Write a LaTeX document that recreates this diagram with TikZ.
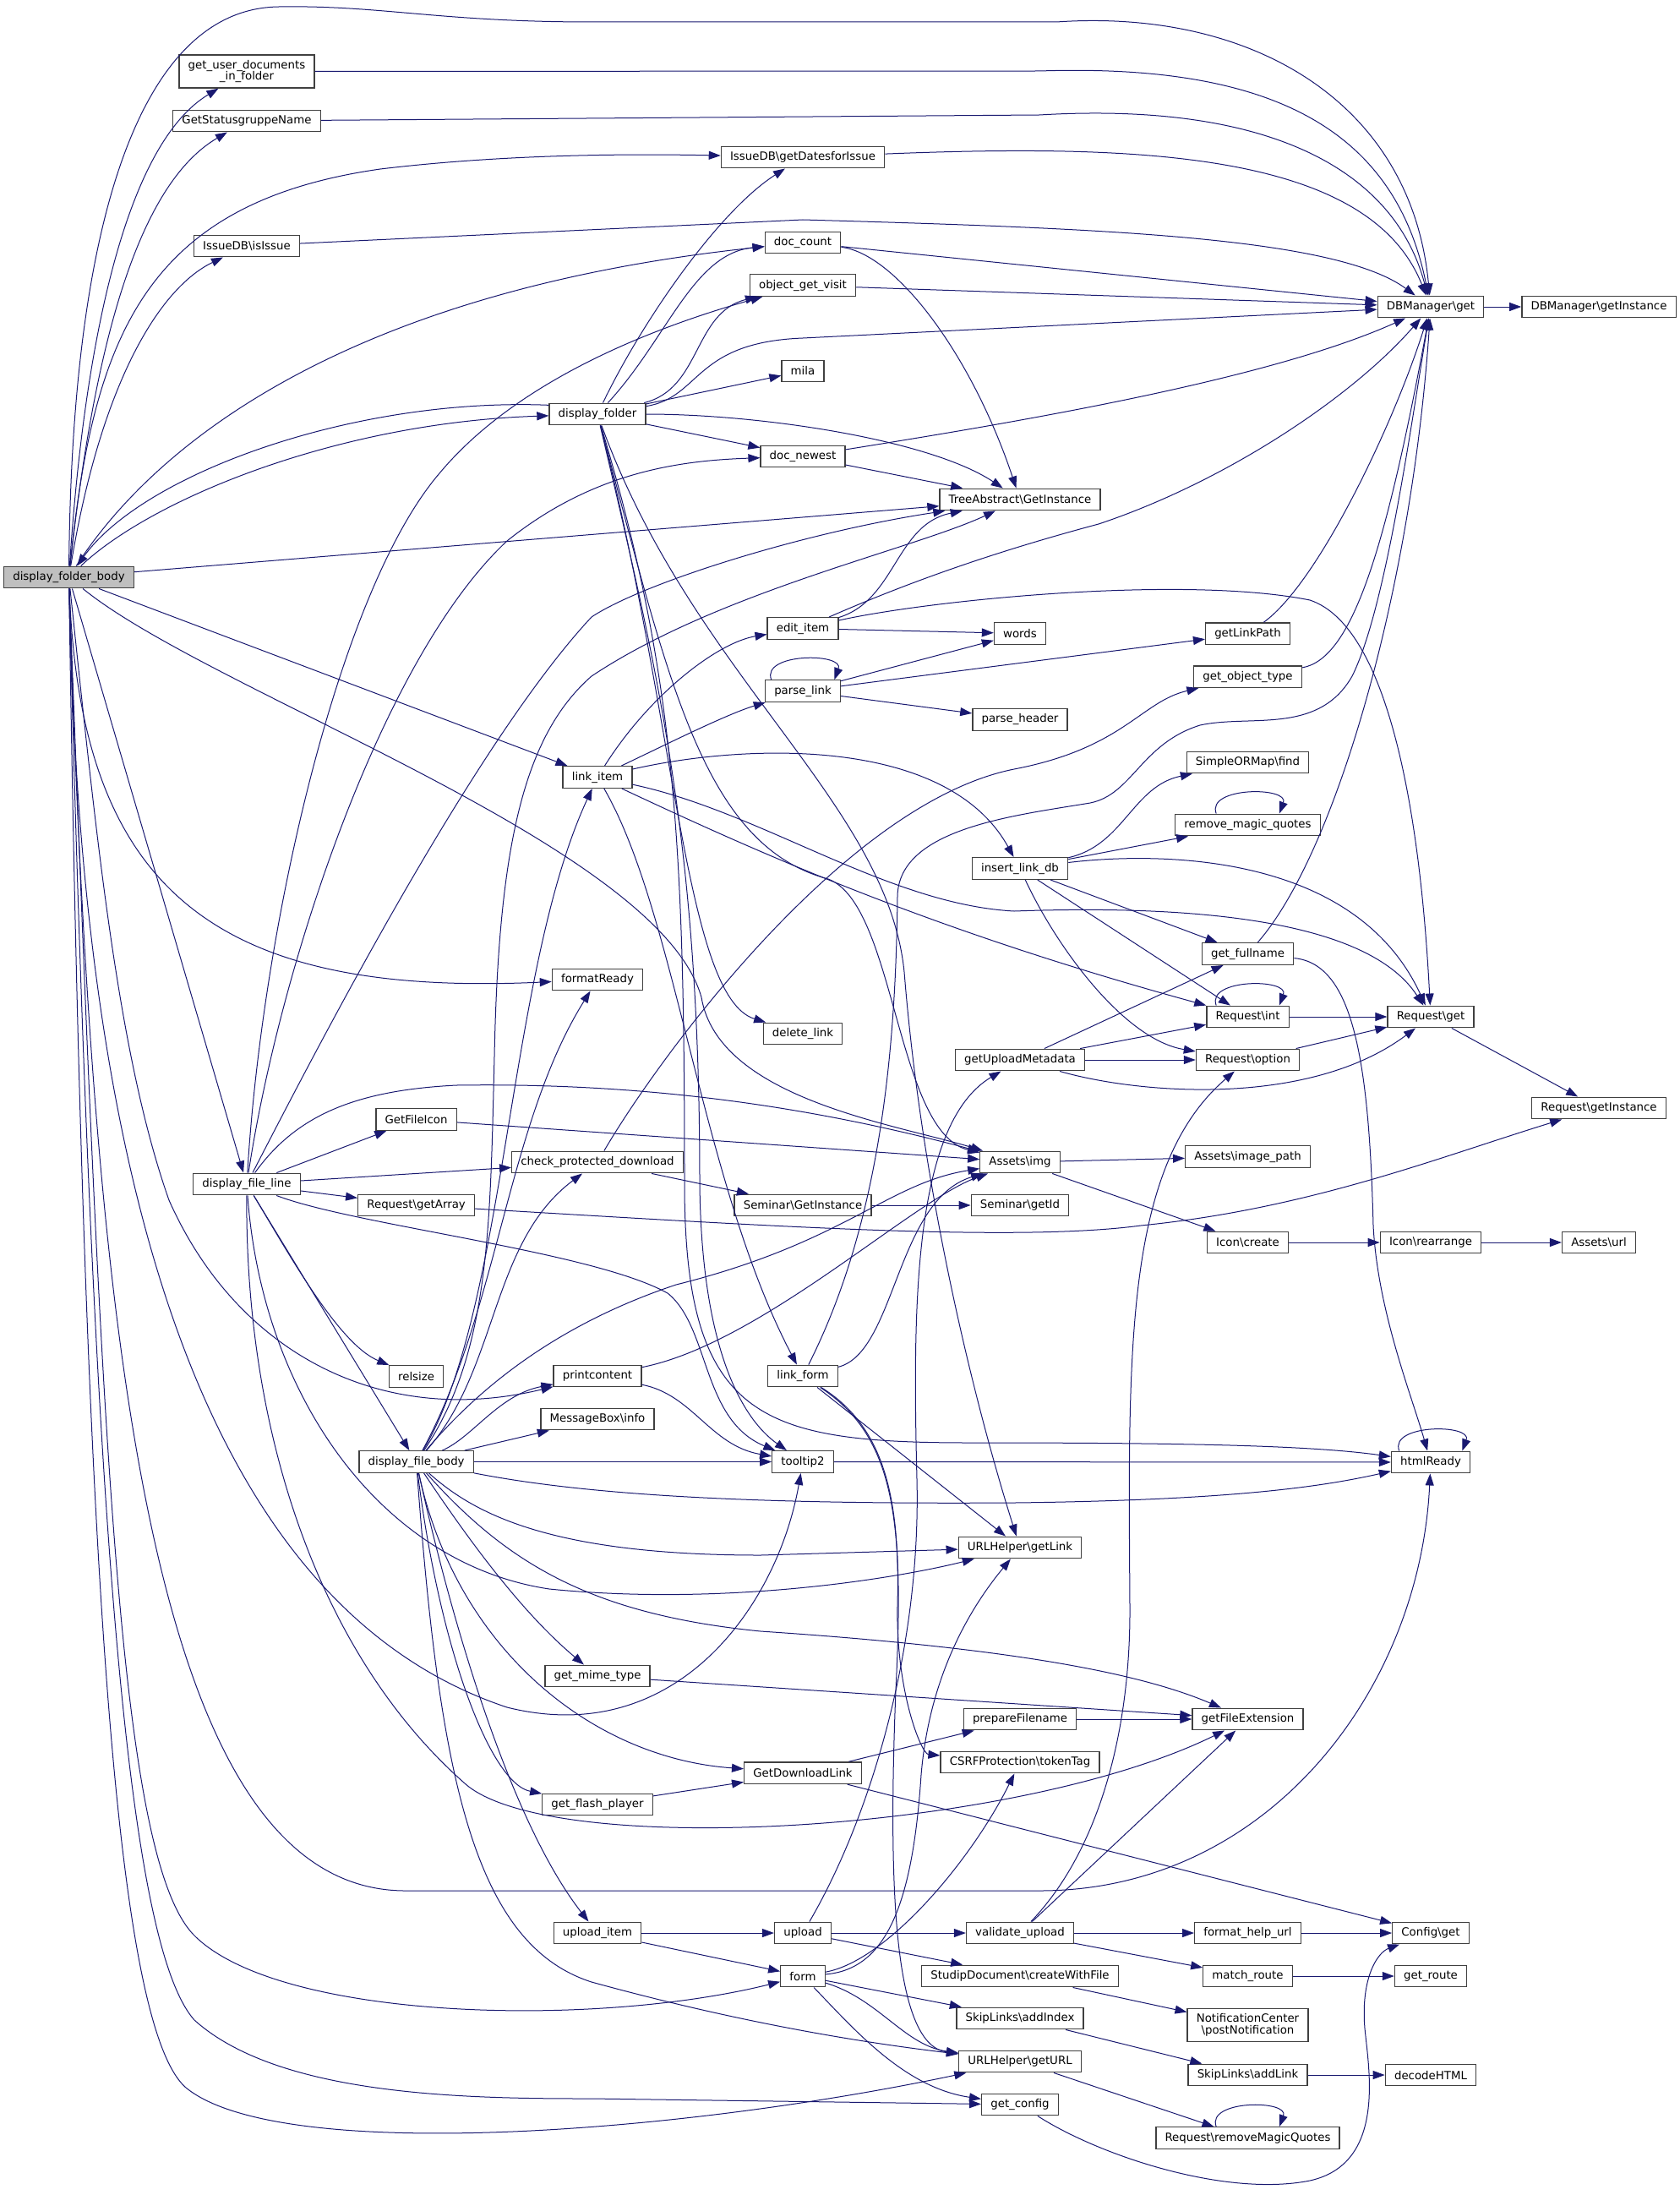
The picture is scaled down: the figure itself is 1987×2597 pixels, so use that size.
\documentclass[tikz,border=0pt]{standalone}
\usepackage{fontspec}
\setmainfont{DejaVu Sans}
\usetikzlibrary{arrows.meta}
\definecolor{dxedge}{HTML}{191970}
\definecolor{dxbox}{HTML}{404040}
\definecolor{dxroot}{HTML}{BFBFBF}
\begin{document}
\begin{tikzpicture} [
   x=0.75pt, y=-0.75pt, ->, >={Triangle[length=10.5pt,width=7.5pt]},
   color=dxedge, line width=0.75pt,
   fn/.style={rectangle, draw=dxbox, fill=white, text=black, line width=1pt,
      inner xsep=8pt, inner ysep=4.5pt, minimum height=19.2pt,
      font=\fontsize{10}{10.4}\selectfont}
]
   \useasboundingbox (0,0) rectangle (1987,2597);
   \node (dfb)  [fn, fill=dxroot] at (81.5,683) {display\_folder\_body};
   \node (gud)  [fn, align=center] at (292,84.5) {get\_user\_documents\\\_in\_folder};
   \node (gsn)  [fn] at (292,143) {GetStatusgruppeName};
   \node (isi)  [fn] at (292,291) {IssueDB\textbackslash{}isIssue};
   \node (dfl)  [fn] at (292,1401) {display\_file\_line};
   \node (gfi)  [fn] at (492.6,1324.5) {GetFileIcon};
   \node (rga)  [fn] at (492.6,1426) {Request\textbackslash{}getArray};
   \node (rel)  [fn] at (492.6,1628.5) {relsize};
   \node (dfbo) [fn] at (492.6,1729.5) {display\_file\_body};
   \node (dfo)  [fn] at (707,490) {display\_folder};
   \node (li)   [fn] at (707,919.5) {link\_item};
   \node (fr)   [fn] at (707,1159) {formatReady};
   \node (cpd)  [fn] at (707,1375) {check\_protected\_download};
   \node (pc)   [fn] at (707,1628) {printcontent};
   \node (mbi)  [fn] at (707,1679) {MessageBox\textbackslash{}info};
   \node (gmt)  [fn] at (707,1983) {get\_mime\_type};
   \node (gfp)  [fn] at (707,2135) {get\_flash\_player};
   \node (ui)   [fn] at (707,2287) {upload\_item};
   \node (gdi)  [fn] at (950,186) {IssueDB\textbackslash{}getDatesforIssue};
   \node (dc)   [fn] at (950,287) {doc\_count};
   \node (ogv)  [fn] at (950,337.6) {object\_get\_visit};
   \node (mila) [fn] at (950,439) {mila};
   \node (dn)   [fn] at (950,540) {doc\_newest};
   \node (ei)   [fn] at (950,743.5) {edit\_item};
   \node (pl)   [fn] at (950,817.6) {parse\_link};
   \node (dl)   [fn] at (950,1223) {delete\_link};
   \node (sgi)  [fn] at (950,1426) {Seminar\textbackslash{}GetInstance};
   \node (lf)   [fn] at (950,1628) {link\_form};
   \node (tt)   [fn] at (950,1729.5) {tooltip2};
   \node (gdl)  [fn] at (950,2097.7) {GetDownloadLink};
   \node (up)   [fn] at (950,2287) {upload};
   \node (fo)   [fn] at (950,2338) {form};
   \node (tag)  [fn] at (1207,591) {TreeAbstract\textbackslash{}GetInstance};
   \node (wo)   [fn] at (1207,749.5) {words};
   \node (ph)   [fn] at (1207,851.4) {parse\_header};
   \node (ild)  [fn] at (1207,1027.5) {insert\_link\_db};
   \node (gum)  [fn] at (1207,1254) {getUploadMetadata};
   \node (aimg) [fn] at (1207,1375) {Assets\textbackslash{}img};
   \node (sgid) [fn] at (1207,1426) {Seminar\textbackslash{}getId};
   \node (ugl)  [fn] at (1207,1831) {URLHelper\textbackslash{}getLink};
   \node (pf)   [fn] at (1207,2034) {prepareFilename};
   \node (csrf) [fn] at (1207,2085) {CSRFProtection\textbackslash{}tokenTag};
   \node (vu)   [fn] at (1207,2287) {validate\_upload};
   \node (sdc)  [fn] at (1207,2338) {StudipDocument\textbackslash{}createWithFile};
   \node (sai)  [fn] at (1207,2388) {SkipLinks\textbackslash{}addIndex};
   \node (ugu)  [fn] at (1207,2439) {URLHelper\textbackslash{}getURL};
   \node (gc)   [fn] at (1207,2490) {get\_config};
   \node (glp)  [fn] at (1476.5,749.7) {getLinkPath};
   \node (got)  [fn] at (1476.5,800.7) {get\_object\_type};
   \node (sof)  [fn] at (1476.5,902) {SimpleORMap\textbackslash{}find};
   \node (rmq)  [fn] at (1476.5,976) {remove\_magic\_quotes};
   \node (gfn)  [fn] at (1476.5,1128.5) {get\_fullname};
   \node (rint) [fn] at (1476.5,1203) {Request\textbackslash{}int};
   \node (ropt) [fn] at (1476.5,1254) {Request\textbackslash{}option};
   \node (aip)  [fn] at (1476.5,1368.6) {Assets\textbackslash{}image\_path};
   \node (icr)  [fn] at (1476.5,1470) {Icon\textbackslash{}create};
   \node (gfe)  [fn] at (1476.5,2034) {getFileExtension};
   \node (fhu)  [fn] at (1476.5,2287) {format\_help\_url};
   \node (mr)   [fn] at (1476.5,2338) {match\_route};
   \node (ncp)  [fn, align=center] at (1476.5,2396) {NotificationCenter\\\textbackslash{}postNotification};
   \node (sal)  [fn] at (1476.5,2455) {SkipLinks\textbackslash{}addLink};
   \node (rrmq) [fn] at (1476.5,2529.6) {Request\textbackslash{}removeMagicQuotes};
   \node (dbg)  [fn] at (1693,363) {DBManager\textbackslash{}get};
   \node (rget) [fn] at (1693,1203) {Request\textbackslash{}get};
   \node (irr)  [fn] at (1693,1470) {Icon\textbackslash{}rearrange};
   \node (hr)   [fn] at (1693,1730) {htmlReady};
   \node (cg)   [fn] at (1693,2287) {Config\textbackslash{}get};
   \node (gr)   [fn] at (1693,2338) {get\_route};
   \node (dh)   [fn] at (1693,2455) {decodeHTML};
   \node (dbgi) [fn] at (1892,363) {DBManager\textbackslash{}getInstance};
   \node (rgi)  [fn] at (1892,1311) {Request\textbackslash{}getInstance};
   \node (au)   [fn] at (1892,1470) {Assets\textbackslash{}url};

   \path (dfb) edge (tag)
               edge (li)
               edge (dfl);
   \draw (dfb) .. controls (85,250) and (170,10) .. (330,8) .. controls (450,6) and (520,26) .. (700,26)
         -- (1250,26) .. controls (1480,10) and (1670,120) .. (dbg);
   \draw (dfb) .. controls (100,400) and (150,170) .. (gud);
   \draw (dfb) .. controls (110,420) and (160,220) .. (gsn);
   \draw (dfb) .. controls (110,400) and (170,240) .. (450,200) .. controls (600,182) and (750,182) .. (gdi);
   \draw (dfb) .. controls (120,450) and (190,340) .. (isi);
   \draw (dfb) .. controls (200,500) and (450,340) .. (dc);
   \draw (dfb) .. controls (180,590) and (400,500) .. (dfo);
   \draw ([yshift=8pt]dfo.west) .. controls (420,470) and (170,560) .. (dfb);
   \draw (dfb) .. controls (250,820) and (780,1000) .. (830,1180) .. controls (850,1300) and (1060,1330) .. (aimg);
   \draw (dfb) .. controls (95,1050) and (250,1180) .. (fr);
   \draw (dfb) .. controls (115,1000) and (140,1250) .. (200,1420) .. controls (280,1600) and (450,1690) .. (pc);
   \draw (dfb) .. controls (95,1400) and (240,1900) .. (600,2020) .. controls (800,2070) and (920,1900) .. (tt);
   \draw (dfb) .. controls (110,1600) and (180,2237) .. (480,2237) -- (1230,2237)
         .. controls (1500,2237) and (1680,2000) .. (hr);
   \draw (dfb) .. controls (120,1700) and (140,2200) .. (230,2290) .. controls (330,2390) and (700,2400) .. (fo);
   \draw (dfb) .. controls (110,1800) and (150,2300) .. (230,2390) .. controls (330,2480) and (550,2483) .. (700,2483) -- (gc);
   \draw (dfb) .. controls (100,1900) and (140,2400) .. (220,2470) .. controls (330,2560) and (800,2525) .. (ugu);

   \path (dfo) edge (mila)
               edge (dn);
   \draw (dfo) .. controls (760,380) and (850,250) .. (gdi);
   \draw (dfo) .. controls (790,400) and (820,300) .. (dc);
   \draw (dfo) .. controls (830,460) and (820,370) .. (ogv);
   \draw (dfo) .. controls (830,470) and (820,405) .. (950,400) -- (dbg);
   \draw (dfo) .. controls (900,490) and (1100,520) .. (tag);
   \draw (dfo) .. controls (800,850) and (810,1180) .. (dl);
   \draw (dfo) .. controls (790,800) and (830,1000) .. (980,1040) .. controls (1060,1070) and (1060,1340) .. (aimg);
   \draw (dfo) .. controls (820,800) and (1050,950) .. (1070,1150) .. controls (1090,1400) and (1150,1650) .. (ugl);
   \draw (dfo) .. controls (800,800) and (810,1000) .. (810,1400) .. controls (810,1680) and (900,1707) .. (1150,1707)
         .. controls (1400,1707) and (1550,1710) .. (hr);
   \draw (dfo) .. controls (780,800) and (828,1000) .. (828,1400) .. controls (830,1600) and (880,1680) .. (tt);

   \path (dc) edge (dbg)
         (ogv) edge (dbg)
         (dn) edge (tag);
   \draw (dc) .. controls (1060,300) and (1150,420) .. (tag);
   \draw (dn) .. controls (1200,500) and (1500,450) .. (dbg);
   \draw (gud) -- (1230,84) .. controls (1500,75) and (1650,150) .. (dbg);
   \draw (gsn) -- (1230,136) .. controls (1500,120) and (1650,200) .. (dbg);
   \draw (gdi) .. controls (1350,170) and (1620,180) .. (dbg);
   \draw (isi) -- (950,260) .. controls (1300,270) and (1580,280) .. (dbg);
   \path (dbg) edge (dbgi);

   \path (ei) edge (wo);
   \draw (ei) .. controls (1060,710) and (1060,620) .. (tag);
   \draw (ei) .. controls (1050,700) and (1150,660) .. (1300,620) .. controls (1450,570) and (1600,470) .. (dbg);
   \draw (ei) .. controls (1100,710) and (1400,680) .. (1550,710) .. controls (1640,740) and (1680,950) .. (rget);

   \draw (li) .. controls (770,820) and (850,760) .. (ei);
   \draw (li) .. controls (790,880) and (860,845) .. (pl);
   \draw (li) .. controls (880,880) and (1120,870) .. (ild);
   \draw (li) .. controls (900,960) and (1050,1070) .. (1200,1078) .. controls (1420,1070) and (1620,1090) .. (rget);
   \draw (li) .. controls (900,1010) and (1100,1100) .. (rint);
   \draw (li) .. controls (800,1080) and (830,1400) .. (lf);

   \path (pl) edge (wo)
              edge (glp)
              edge (ph);
   \draw ([xshift=-28pt]pl.north) .. controls +(-12,-32) and +(12,-32) .. ([xshift=28pt]pl.north);
   \draw (glp) .. controls (1560,690) and (1650,500) .. (dbg);
   \draw (got) .. controls (1600,780) and (1640,650) .. (dbg);
   \draw (gfn) .. controls (1580,1010) and (1670,700) .. (dbg);
   \draw (gfn) .. controls (1600,1140) and (1620,1250) .. (1625,1450) .. controls (1630,1550) and (1670,1650) .. (hr);

   \path (ild) edge (rmq)
               edge (gfn)
               edge (rint);
   \draw (ild) .. controls (1330,1000) and (1340,930) .. (sof);
   \draw (ild) .. controls (1350,1010) and (1600,1000) .. (rget);
   \draw (ild) .. controls (1250,1120) and (1330,1230) .. (ropt);
   \draw ([xshift=-28pt]rmq.north) .. controls +(-12,-32) and +(12,-32) .. ([xshift=28pt]rmq.north);

   \path (gum) edge (gfn)
               edge (rint)
               edge (ropt);
   \draw (gum) .. controls (1350,1295) and (1550,1310) .. (rget);
   \path (rint) edge (rget)
         (ropt) edge (rget)
         (rget) edge (rgi);
   \draw ([xshift=-28pt]rint.north) .. controls +(-12,-32) and +(12,-32) .. ([xshift=28pt]rint.north);
   \draw (rga) .. controls (900,1450) and (1200,1470) .. (1350,1450) .. controls (1550,1430) and (1700,1370) .. (rgi);

   \path (aimg) edge (aip)
                edge (icr)
         (icr) edge (irr)
         (irr) edge (au)
         (sgi) edge (sgid)
         (cpd) edge (sgi)
         (gfi) edge (aimg);
   \draw (cpd) .. controls (780,1250) and (1000,950) .. (1200,910) .. controls (1330,885) and (1350,830) .. (got);

   \path (dfl) edge (gfi)
               edge (cpd)
               edge (rga)
               edge (dfbo);
   \draw (dfl) .. controls (340,1480) and (400,1590) .. (rel);
   \draw (dfl) .. controls (370,1250) and (560,880) .. (700,730) .. controls (760,690) and (950,630) .. (tag);
   \draw (dfl) .. controls (330,1150) and (450,780) .. (600,640) .. controls (700,560) and (800,545) .. (dn);
   \draw (dfl) .. controls (310,1100) and (400,700) .. (520,560) .. controls (620,440) and (800,380) .. (ogv);
   \draw (dfl) .. controls (350,1320) and (420,1290) .. (540,1284) .. controls (800,1280) and (1000,1320) .. (aimg);
   \draw (dfl) .. controls (420,1450) and (700,1480) .. (790,1530) .. controls (840,1570) and (830,1680) .. (tt);
   \draw (dfl) .. controls (310,1650) and (450,1850) .. (650,1880) .. controls (850,1900) and (1050,1870) .. (ugl);
   \draw (dfl) .. controls (290,1700) and (380,1960) .. (550,2110) .. controls (650,2200) and (1200,2170) .. (gfe);

   \path (dfbo) edge (mbi)
                edge (tt);
   \draw (dfbo) .. controls (600,1550) and (600,1150) .. (li);
   \draw (dfbo) .. controls (590,1550) and (600,1330) .. (fr);
   \draw (dfbo) .. controls (590,1620) and (580,1470) .. (cpd);
   \draw (dfbo) .. controls (580,1600) and (580,1450) .. (585,1250) .. controls (590,1000) and (620,870) .. (700,800)
         .. controls (850,700) and (1080,650) .. (tag);
   \draw (dfbo) .. controls (560,1650) and (650,1570) .. (800,1520) .. controls (1000,1470) and (1050,1400) .. (aimg);
   \draw (dfbo) .. controls (560,1700) and (590,1650) .. (pc);
   \draw (dfbo) .. controls (700,1770) and (900,1780) .. (1200,1778) .. controls (1450,1775) and (1560,1760) .. (hr);
   \draw (dfbo) .. controls (560,1790) and (650,1840) .. (900,1840) -- (ugl);
   \draw (dfbo) .. controls (560,1830) and (620,1910) .. (gmt);
   \draw (dfbo) .. controls (520,1950) and (580,2110) .. (gfp);
   \draw (dfbo) .. controls (540,1950) and (700,2080) .. (gdl);
   \draw (dfbo) .. controls (530,1900) and (600,2150) .. (ui);
   \draw (dfbo) .. controls (520,2100) and (560,2300) .. (700,2345) .. controls (900,2400) and (1050,2420) .. (ugu);
   \draw (dfbo) .. controls (600,1850) and (700,1910) .. (900,1930) .. controls (1200,1950) and (1350,1980) .. (gfe);

   \draw (pc) .. controls (900,1590) and (1080,1420) .. (aimg);
   \draw (pc) .. controls (820,1650) and (840,1710) .. (tt);

   \path (lf) edge (ugl);
   \draw (lf) .. controls (1060,1600) and (1060,1420) .. (aimg);
   \draw (lf) .. controls (1050,1690) and (1065,1780) .. (1062,1900) .. controls (1060,2000) and (1090,2075) .. (csrf);
   \draw (lf) .. controls (1060,1700) and (1070,1800) .. (1060,2000) .. controls (1050,2250) and (1060,2420) .. (ugu);
   \draw (lf) .. controls (1040,1450) and (1060,1250) .. (1062,1060) .. controls (1064,980) and (1200,965) .. (1290,950)
         .. controls (1340,940) and (1350,880) .. (1420,858) .. controls (1480,845) and (1560,870) .. (1600,800)
         .. controls (1640,720) and (1670,500) .. (dbg);

   \path (tt) edge (hr)
         (gdl) edge (pf)
               edge (cg)
         (gfp) edge (gdl)
         (gmt) edge (gfe)
         (pf) edge (gfe)
         (ui) edge (up)
              edge (fo)
         (up) edge (vu)
              edge (sdc);
   \draw ([xshift=-28pt]hr.north) .. controls +(-12,-32) and +(12,-32) .. ([xshift=28pt]hr.north);
   \draw (up) .. controls (1030,2150) and (1090,1950) .. (1085,1750) .. controls (1080,1550) and (1080,1330) .. (gum);

   \path (fo) edge (sai);
   \draw (fo) .. controls (1050,2320) and (1150,2200) .. (csrf);
   \draw (fo) .. controls (1050,2330) and (1080,2250) .. (1090,2100) .. controls (1100,1980) and (1150,1900) .. (ugl);
   \draw (fo) .. controls (1040,2365) and (1070,2420) .. (ugu);
   \draw (fo) .. controls (1010,2400) and (1070,2470) .. (gc);

   \path (vu) edge (fhu)
              edge (mr)
              edge (gfe)
         (fhu) edge (cg)
         (mr) edge (gr)
         (sdc) edge (ncp)
         (sai) edge (sal)
         (sal) edge (dh)
         (ugu) edge (rrmq);
   \draw (vu) .. controls (1300,2190) and (1338,2050) .. (1337,1900) .. controls (1335,1600) and (1330,1380) .. (ropt);
   \draw ([xshift=-28pt]rrmq.north) .. controls +(-12,-32) and +(12,-32) .. ([xshift=28pt]rrmq.north);
   \draw (gc) .. controls (1300,2550) and (1450,2600) .. (1550,2580) .. controls (1640,2560) and (1620,2450) .. (1615,2400)
         .. controls (1610,2340) and (1630,2310) .. (cg);
\end{tikzpicture}
\end{document}
